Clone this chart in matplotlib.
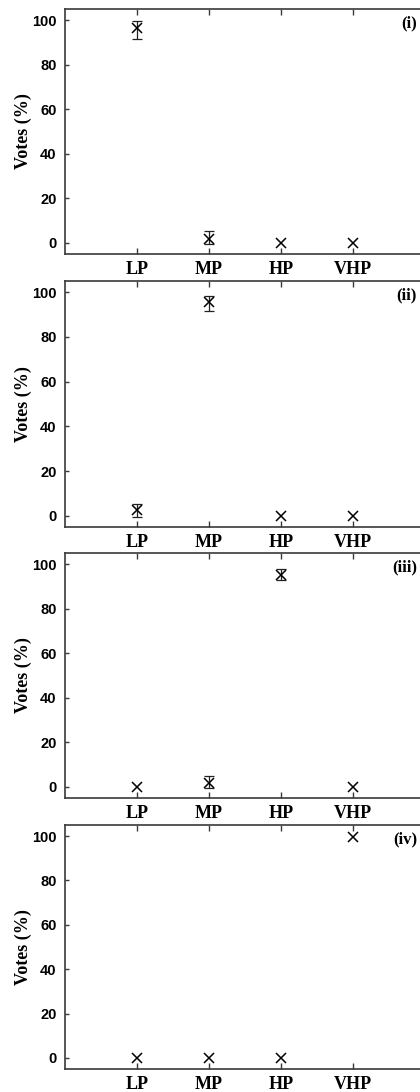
import matplotlib
matplotlib.use("Agg")
import matplotlib.pyplot as plt
import matplotlib.transforms as mtrans
import numpy as np

categories = ["LP", "MP", "HP", "VHP"]
panel_labels = ["(i)", "(ii)", "(iii)", "(iv)"]
# mean votes (%) per panel
means = [
    [96.6, 1.8, 0.0, 0.0],
    [2.5, 95.4, 0.0, 0.0],
    [0.0, 1.7, 95.3, 0.0],
    [0.0, 0.0, 0.0, 99.6],
]
# error bar lower / upper ends (None = no error bar)
err_low = [
    [91.5, -0.7, None, None],
    [-0.4, 91.6, None, None],
    [None, -0.7, 92.8, None],
    [None, None, None, None],
]
err_high = [
    [99.7, 5.4, None, None],
    [5.5, 98.4, None, None],
    [None, 4.7, 98.0, None],
    [None, None, None, None],
]
yticks = [0, 20, 40, 60, 80, 100]

W, H = 420, 1092
fig = plt.figure(figsize=(W / 100, H / 100), dpi=100)

tops = [9, 281, 553, 825]
bottoms = [254, 527, 798, 1069]
left_px, right_px = 65, 425

x = np.arange(1, len(categories) + 1)
spine_c = "#3a3a3a"

for i in range(4):
    ax = fig.add_axes([left_px / W, 1 - bottoms[i] / H,
                       (right_px - left_px) / W, (bottoms[i] - tops[i]) / H])
    m = np.array(means[i], dtype=float)
    lo = np.array([np.nan if v is None else v for v in err_low[i]])
    hi = np.array([np.nan if v is None else v for v in err_high[i]])
    has = ~np.isnan(lo)
    ax.errorbar(x[has], m[has], yerr=[m[has] - lo[has], hi[has] - m[has]],
                fmt="none", ecolor="#222222", elinewidth=0.9, capsize=3.5,
                capthick=0.9)
    ax.plot(x, m, linestyle="none", marker="x", markersize=7,
            markeredgewidth=1.1, color="black")
    ax.set_xlim(0, 5)
    ax.set_ylim(-5, 105)
    ax.set_xticks(x)
    ax.set_xticklabels(categories, fontfamily="Liberation Serif",
                       fontweight="bold", fontsize=13)
    ax.set_yticks(yticks)
    ax.set_yticklabels([str(v) for v in yticks], fontfamily="Liberation Sans",
                       fontweight="bold", fontsize=10.5)
    ax.tick_params(axis="x", direction="in", top=True, bottom=True,
                   length=4, width=1, color=spine_c, pad=5)
    ax.tick_params(axis="y", direction="in", length=3, width=1,
                   color=spine_c, pad=6)
    for s in ax.spines.values():
        s.set_color(spine_c)
        s.set_linewidth(1.2)
    ax.set_ylabel("Votes (%)", fontfamily="Liberation Serif", fontweight="bold",
                  fontsize=13, labelpad=0)
    ax.text(417 / W, 98.5, panel_labels[i],
            transform=mtrans.blended_transform_factory(fig.transFigure, ax.transData),
            ha="right", va="center", fontfamily="Liberation Serif",
            fontweight="bold", fontsize=12)

fig.savefig("out.png", dpi=100)
